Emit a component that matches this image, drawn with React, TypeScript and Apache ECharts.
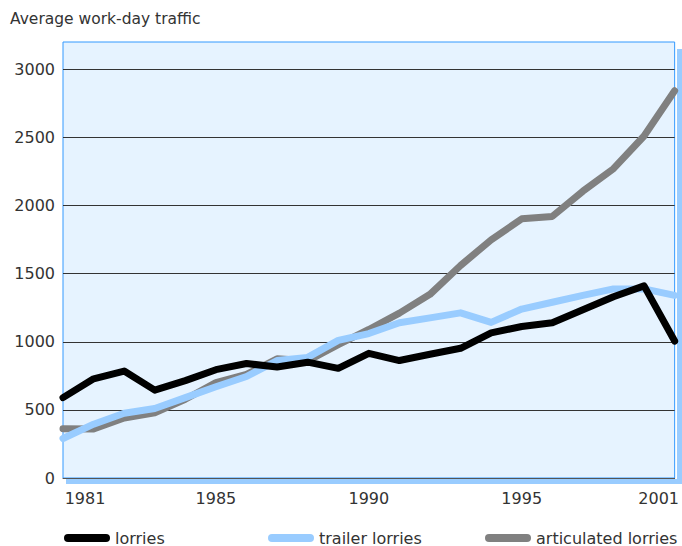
import React, { useEffect, useRef } from "react";
import * as echarts from "echarts";

const years = [
  "1981", "1982", "1983", "1984", "1985", "1986", "1987", "1988", "1989", "1990",
  "1991", "1992", "1993", "1994", "1995", "1996", "1997", "1998", "1999", "2000", "2001",
];
const lorries = [590, 728, 785, 645, 715, 795, 840, 815, 850, 805, 915, 862, 908, 952, 1065, 1112, 1140, 1235, 1330, 1410, 1005];
const trailerLorries = [290, 395, 475, 510, 590, 670, 745, 862, 885, 1010, 1060, 1140, 1175, 1212, 1142, 1240, 1290, 1340, 1388, 1388, 1340];
const articulatedLorries = [362, 360, 440, 478, 578, 700, 760, 875, 860, 978, 1090, 1210, 1348, 1560, 1748, 1902, 1920, 2105, 2270, 2510, 2842];

const xTickIndex = [0, 5, 10, 15, 20];
const xTickLabels = ["1981", "1985", "1990", "1995", "2001"];

const FONT = "'DejaVu Sans', sans-serif";
const PILL = "path://M4,0 H42 A4,4 0 0 1 42,8 H4 A4,4 0 0 1 4,0 Z";

export default function App() {
  const ref = useRef<HTMLDivElement>(null);
  useEffect(() => {
    if (!ref.current) return;
    const chart = echarts.init(ref.current, null, { renderer: "svg" });
    const legendBase = {
      top: 530,
      padding: 0,
      itemWidth: 46,
      itemHeight: 9,
      itemGap: 0,
      textStyle: { fontFamily: FONT, fontSize: 16, color: "#333" },
    };
    chart.setOption({
      animation: false,
      textStyle: { fontFamily: FONT },
      title: {
        text: "Average work-day traffic",
        left: 5,
        top: 6,
        textStyle: { fontFamily: FONT, fontSize: 15.5, fontWeight: "normal", color: "#333" },
      },
      grid: {
        left: 63,
        right: 5.5,
        top: 42,
        bottom: 68,
        show: true,
        backgroundColor: "#e6f3ff",
        borderColor: "#3399ff",
        borderWidth: 1,
      },
      graphic: [
        { type: "rect", shape: { x: 677, y: 49, width: 5, height: 435 }, style: { fill: "#99ccff" } },
        { type: "rect", shape: { x: 66, y: 479, width: 616, height: 5 }, style: { fill: "#99ccff" } },
      ],
      legend: [
        { ...legendBase, left: 64, data: [{ name: "lorries", icon: PILL }] },
        { ...legendBase, left: 268, data: [{ name: "trailer lorries", icon: PILL }] },
        { ...legendBase, left: 485, data: [{ name: "articulated lorries", icon: PILL }] },
      ],
      xAxis: {
        type: "category",
        data: years,
        boundaryGap: false,
        axisTick: { show: false },
        axisLine: { show: true, lineStyle: { color: "#555", width: 1 } },
        splitLine: { show: false },
        axisLabel: {
          interval: 0,
          margin: 12,
          fontFamily: FONT,
          fontSize: 16,
          color: "#333",
          formatter: (_v: string, i: number) => {
            const k = xTickIndex.indexOf(i);
            if (k < 0) return "";
            if (k === 0) return "{a|" + xTickLabels[k] + "}";
            if (k === xTickLabels.length - 1) return "{b|" + xTickLabels[k] + "}";
            return xTickLabels[k];
          },
          rich: {
            a: { fontFamily: FONT, fontSize: 16, color: "#333", padding: [0, 0, 0, 44] },
            b: { fontFamily: FONT, fontSize: 16, color: "#333", padding: [0, 32, 0, 0] },
          },
        },
      },
      yAxis: {
        type: "value",
        min: 0,
        max: 3200,
        interval: 500,
        axisLine: { show: false },
        axisTick: { show: false },
        axisLabel: {
          showMaxLabel: false,
          margin: 8,
          fontFamily: FONT,
          fontSize: 16,
          color: "#333",
          formatter: (v: number) => String(v),
        },
        splitLine: {
          show: true,
          showMinLine: false,
          showMaxLine: false,
          lineStyle: { color: "#333", width: 1 },
        },
      },
      series: [
        {
          name: "articulated lorries",
          type: "line",
          data: articulatedLorries,
          showSymbol: false,
          color: "#808080",
          lineStyle: { width: 7, color: "#808080", cap: "round", join: "round" },
        },
        {
          name: "trailer lorries",
          type: "line",
          data: trailerLorries,
          showSymbol: false,
          color: "#99ccff",
          lineStyle: { width: 7, color: "#99ccff", cap: "round", join: "round" },
        },
        {
          name: "lorries",
          type: "line",
          data: lorries,
          showSymbol: false,
          color: "#000000",
          lineStyle: { width: 7, color: "#000000", cap: "round", join: "round" },
        },
      ],
    });
    return () => chart.dispose();
  }, []);
  return (
    <div
      ref={ref}
      style={{ position: "fixed", left: 0, top: 0, width: 682, height: 546, background: "#fff" }}
    />
  );
}
